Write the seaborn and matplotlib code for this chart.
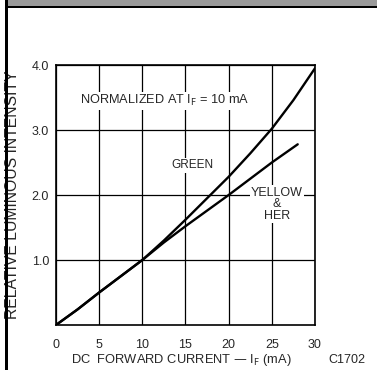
import pandas as pd
import matplotlib.pyplot as plt
import seaborn as sns
from matplotlib.patches import Rectangle

# data
green_x = [0, 2.5, 5, 7.5, 10, 12.5, 15, 17.5, 20, 22.5, 25, 27.5, 30]
green_y = [0, 0.24, 0.5, 0.75, 1.0, 1.3, 1.62, 1.95, 2.28, 2.64, 3.02, 3.46, 3.95]
yellow_x = [0, 2.5, 5, 7.5, 10, 12.5, 15, 17.5, 20, 22.5, 25, 28]
yellow_y = [0, 0.24, 0.5, 0.75, 1.0, 1.27, 1.52, 1.76, 2.0, 2.25, 2.5, 2.78]
x_ticks = [0, 5, 10, 15, 20, 25, 30]
y_ticks = [1.0, 2.0, 3.0, 4.0]

df = pd.concat([
    pd.DataFrame({"current": green_x, "intensity": green_y, "led": "GREEN"}),
    pd.DataFrame({"current": yellow_x, "intensity": yellow_y, "led": "YELLOW"}),
])

sns.set_style("white")
plt.rcParams["font.family"] = ["Liberation Sans", "DejaVu Sans"]

fig = plt.figure(figsize=(3.77, 3.70), dpi=100)
ax = fig.add_axes([0.1485, 0.1216, 0.687, 0.7027])

sns.lineplot(data=df, x="current", y="intensity", units="led", estimator=None,
             color="black", linewidth=1.7, ax=ax, legend=False)

ax.set_xlim(0, 30)
ax.set_ylim(0, 4.0)
ax.set_xticks(x_ticks)
ax.set_yticks(y_ticks)
ax.set_xticklabels([str(t) for t in x_ticks], fontsize=9)
ax.set_yticklabels([f"{t:.1f}" for t in y_ticks], fontsize=9)
ax.tick_params(axis="x", length=0, pad=10)
ax.tick_params(axis="y", length=0, pad=5)
ax.grid(True, color="black", linewidth=0.9)
for s in ax.spines.values():
    s.set_color("black")
    s.set_linewidth(1.2)
ax.set_xlabel("")
ax.set_ylabel("RELATIVE LUMINOUS INTENSITY", fontsize=11.3)
ax.yaxis.set_label_coords(-0.14, 0.5)

bg = dict(facecolor="white", edgecolor="none", pad=1)
ax.text(2.8, 3.45, "NORMALIZED AT I$_{\\rm F}$ = 10 mA", fontsize=9.2, va="center", bbox=bg)
ax.text(15.8, 2.46, "GREEN", fontsize=8.5, ha="center", va="center", bbox=bg)
ax.text(25.6, 1.86, "YELLOW\n&\nHER", fontsize=9, ha="center", va="center",
        linespacing=0.95, bbox=bg)

fig.text(0.48, 0.027, "DC  FORWARD CURRENT — I$_{\\rm F}$ (mA)", fontsize=9.3, ha="center", va="center")
fig.text(0.92, 0.027, "C1702", fontsize=9, ha="center", va="center")

# page border and hatched strip at top
fig.patches.append(Rectangle((0.013, 0), 0.008, 1.0, transform=fig.transFigure,
                             facecolor="black", edgecolor="none"))
fig.patches.append(Rectangle((0.021, 0.982), 0.979, 0.018, transform=fig.transFigure,
                             facecolor="#9a9a9a", edgecolor="none"))
fig.patches.append(Rectangle((0.021, 0.978), 0.979, 0.005, transform=fig.transFigure,
                             facecolor="black", edgecolor="none"))

fig.savefig("out.png", dpi=100)
